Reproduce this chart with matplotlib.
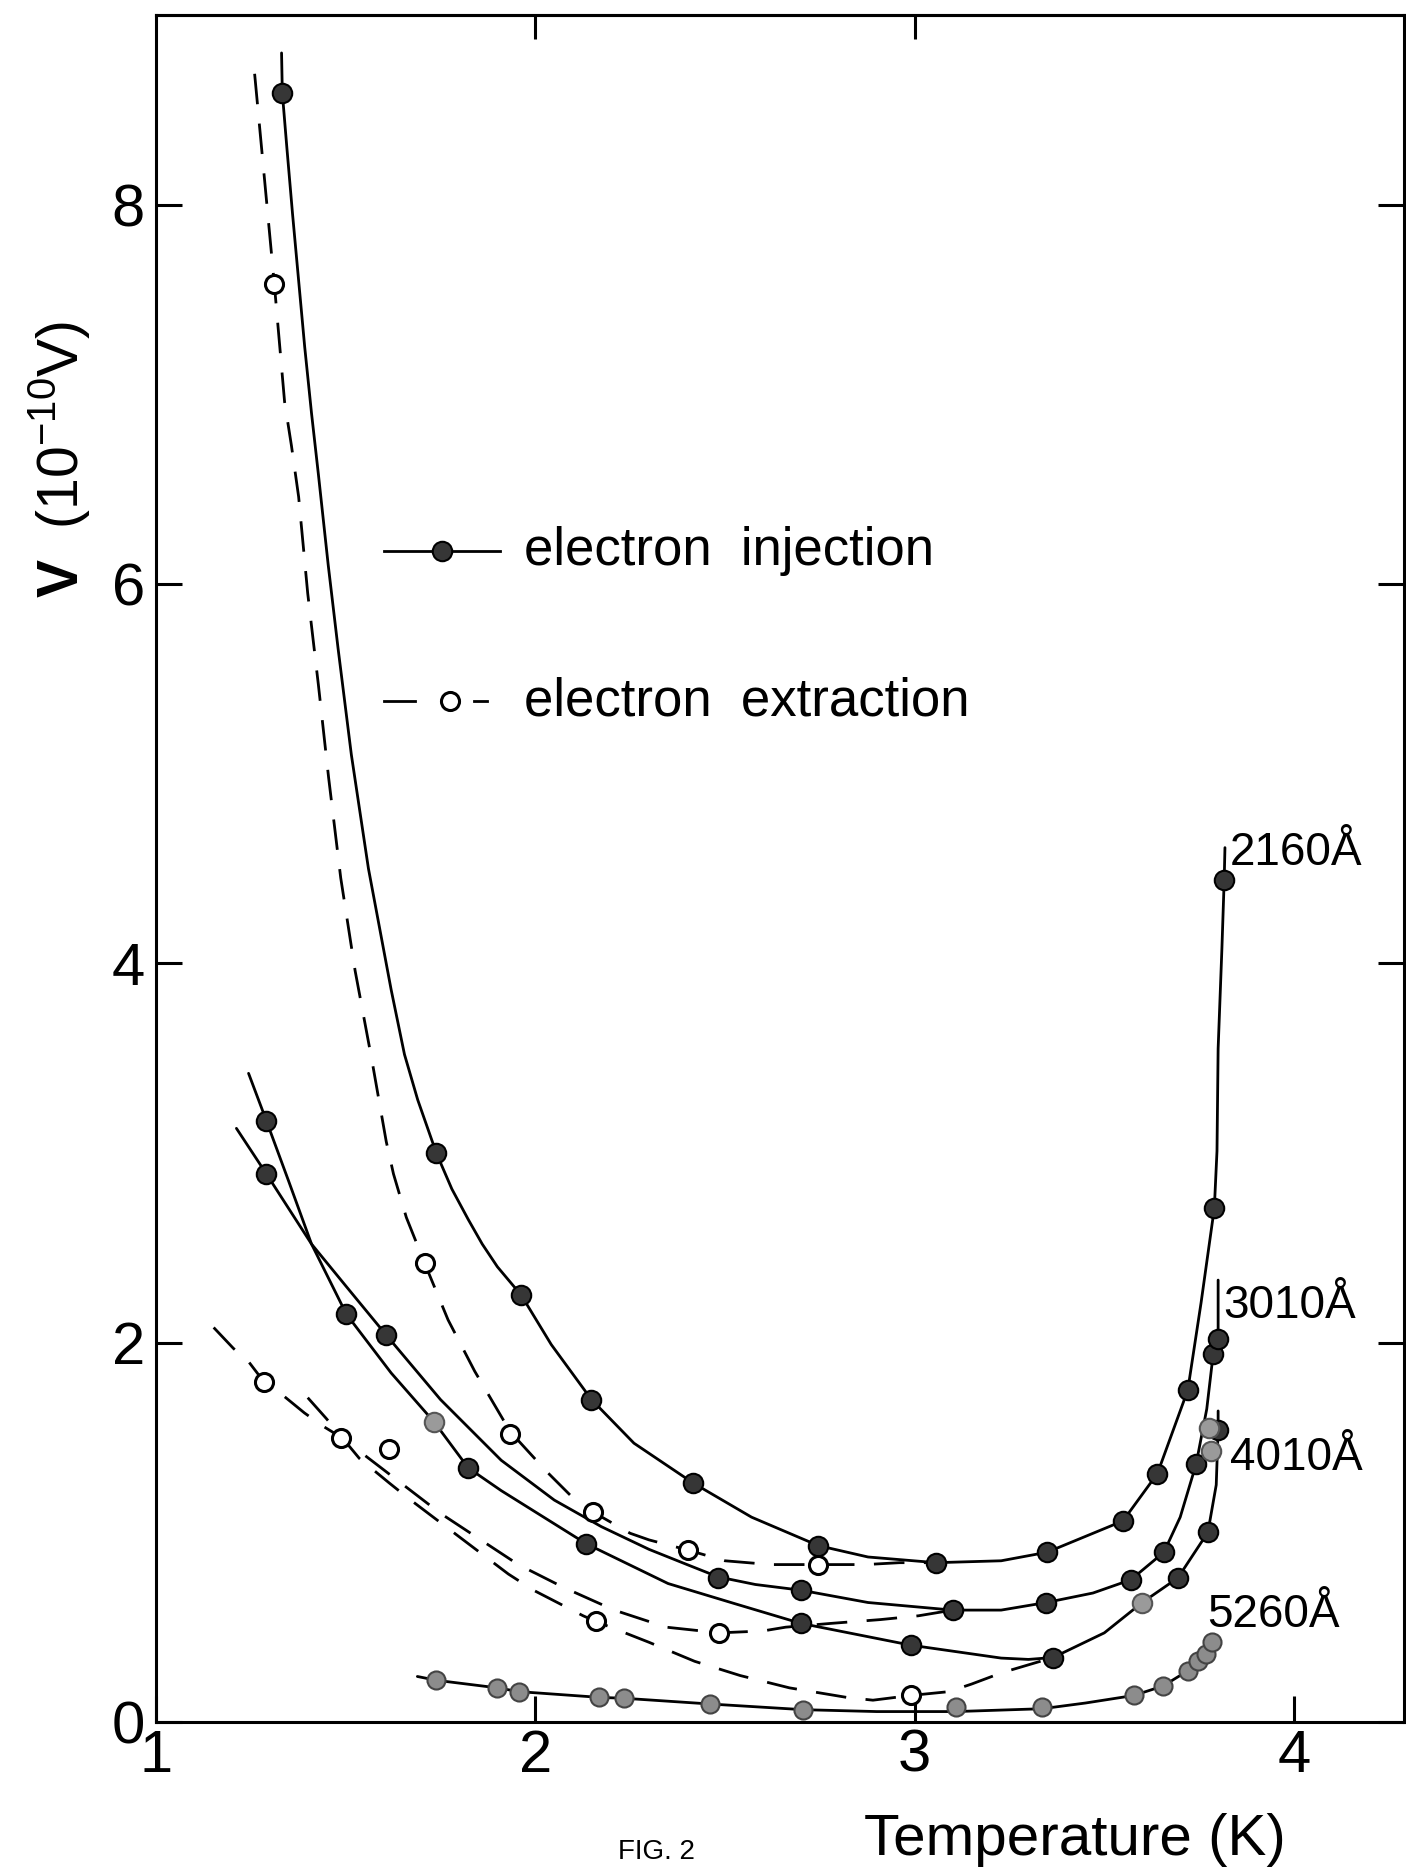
import matplotlib
matplotlib.use("Agg")
import matplotlib.pyplot as plt

plt.rcParams['font.family'] = ['Liberation Sans', 'DejaVu Sans']
plt.rcParams['mathtext.fontset'] = 'custom'
plt.rcParams['mathtext.rm'] = 'Liberation Sans'
plt.rcParams['mathtext.bf'] = 'Liberation Sans:bold'

# ---- data (T in K, V in 1e-10 V) ----
# 2160 A, electron injection: measured points and drawn curve
t2160 = [1.333, 1.739, 1.963, 2.148, 2.416, 2.746, 3.057, 3.349, 3.549, 3.64, 3.72, 3.79, 3.816]
v2160 = [8.59, 3.00, 2.25, 1.70, 1.26, 0.93, 0.84, 0.895, 1.06, 1.31, 1.75, 2.71, 4.44]
t2160_line = [1.331, 1.333, 1.345, 1.36, 1.376, 1.392, 1.41, 1.428, 1.454, 1.48, 1.515, 1.56,
              1.62, 1.655, 1.69, 1.739, 1.78, 1.823, 1.86, 1.90, 1.963, 2.042, 2.148, 2.26,
              2.416, 2.57, 2.746, 2.877, 3.057, 3.228, 3.349, 3.549, 3.64, 3.72, 3.755, 3.79,
              3.797, 3.80, 3.81, 3.816, 3.818]
v2160_line = [8.80, 8.59, 8.30, 7.95, 7.60, 7.25, 6.90, 6.58, 6.10, 5.66, 5.10, 4.50,
              3.86, 3.52, 3.28, 3.00, 2.81, 2.65, 2.52, 2.40, 2.25, 1.99, 1.70, 1.47,
              1.26, 1.08, 0.93, 0.87, 0.84, 0.85, 0.895, 1.06, 1.31, 1.75, 2.21, 2.71,
              3.01, 3.55, 4.08, 4.44, 4.61]

# 2160 A, electron extraction
t2160x = [1.312, 1.708, 1.934, 2.153, 2.403, 2.746]
v2160x = [7.58, 2.42, 1.52, 1.106, 0.906, 0.83]
t2160x_line = [1.26, 1.312, 1.339, 1.357, 1.376, 1.40, 1.428, 1.455, 1.487, 1.525, 1.57, 1.607,
               1.626, 1.66, 1.708, 1.77, 1.84, 1.934, 2.03, 2.10, 2.153, 2.25, 2.30, 2.403,
               2.50, 2.62, 2.746, 2.87, 2.96, 3.057]
v2160x_line = [8.69, 7.58, 6.96, 6.73, 6.46, 5.95, 5.47, 4.98, 4.45, 3.96, 3.48, 3.06,
               2.89, 2.66, 2.42, 2.12, 1.85, 1.53, 1.32, 1.18, 1.106, 0.995, 0.96, 0.906,
               0.85, 0.83, 0.83, 0.83, 0.84, 0.84]

# 3010 A, injection
t3010 = [1.291, 1.607, 2.482, 2.70, 3.10, 3.347, 3.57, 3.657, 3.742, 3.787, 3.80]
v3010 = [2.89, 2.04, 0.76, 0.695, 0.59, 0.63, 0.75, 0.895, 1.36, 1.94, 2.02]
t3010_line = [1.212, 1.291, 1.41, 1.50, 1.607, 1.75, 1.91, 2.05, 2.174, 2.30, 2.40, 2.482,
              2.58, 2.70, 2.877, 3.10, 3.228, 3.347, 3.47, 3.57, 3.657, 3.70, 3.742, 3.77,
              3.787, 3.80, 3.80]
v3010_line = [3.13, 2.89, 2.52, 2.30, 2.04, 1.70, 1.38, 1.17, 1.03, 0.91, 0.83, 0.765,
              0.725, 0.695, 0.63, 0.59, 0.59, 0.63, 0.68, 0.75, 0.895, 1.08, 1.36, 1.65,
              1.94, 2.02, 2.33]

# 3010 A, extraction
t3010x = [1.286, 1.489, 2.485]
v3010x = [1.79, 1.50, 0.47]
t3010x_line = [1.152, 1.204, 1.244, 1.286, 1.336, 1.391, 1.44, 1.489, 1.60, 1.75, 1.955, 2.074,
               2.208, 2.345, 2.485, 2.60, 2.66, 2.78, 2.91, 3.01, 3.10]
v3010x_line = [2.08, 1.97, 1.90, 1.79, 1.72, 1.63, 1.56, 1.50, 1.33, 1.10, 0.83, 0.71,
               0.59, 0.50, 0.47, 0.48, 0.50, 0.52, 0.54, 0.56, 0.59]

# 4010 A, injection
t4010 = [1.291, 1.502, 1.823, 2.134, 2.70, 2.99, 3.365, 3.694, 3.773, 3.80]
v4010 = [3.17, 2.15, 1.34, 0.94, 0.52, 0.405, 0.34, 0.76, 1.00, 1.54]
t4010_line = [1.244, 1.291, 1.35, 1.41, 1.502, 1.62, 1.734, 1.823, 1.91, 2.134, 2.35, 2.524,
              2.70, 2.99, 3.228, 3.30, 3.365, 3.50, 3.60, 3.694, 3.773, 3.795, 3.80, 3.80]
v4010_line = [3.42, 3.17, 2.85, 2.52, 2.15, 1.84, 1.58, 1.34, 1.22, 0.94, 0.73, 0.625,
              0.52, 0.405, 0.337, 0.33, 0.34, 0.47, 0.63, 0.76, 1.00, 1.25, 1.54, 1.64]

# 4010 A, extraction
t4010x = [2.16, 2.99]
v4010x = [0.53, 0.14]
t4010x_line = [1.40, 1.449, 1.536, 1.615, 1.665, 1.929, 1.995, 2.126, 2.16, 2.30, 2.42, 2.54,
               2.67, 2.82, 2.89, 2.99, 3.09, 3.15, 3.23, 3.365]
v4010x_line = [1.71, 1.60, 1.39, 1.26, 1.18, 0.78, 0.695, 0.56, 0.53, 0.42, 0.32, 0.245,
               0.18, 0.13, 0.115, 0.14, 0.16, 0.20, 0.26, 0.34]

# 5260 A, injection
t5260 = [1.739, 1.90, 1.958, 2.168, 2.235, 2.46, 2.706, 3.109, 3.336, 3.578, 3.655, 3.72,
         3.747, 3.768, 3.784]
v5260 = [0.22, 0.18, 0.16, 0.13, 0.126, 0.095, 0.063, 0.08, 0.08, 0.14, 0.19, 0.27,
         0.32, 0.36, 0.42]
t5260_line = [1.689, 1.739, 1.90, 1.958, 2.168, 2.235, 2.46, 2.706, 2.9, 3.109, 3.336, 3.45,
              3.578, 3.655, 3.72, 3.747, 3.768, 3.784]
v5260_line = [0.24, 0.22, 0.18, 0.16, 0.13, 0.125, 0.095, 0.065, 0.055, 0.055, 0.07, 0.10,
              0.14, 0.19, 0.27, 0.32, 0.36, 0.42]

# faint (grey) points and a stray open point
t_faint = [1.734, 3.60, 3.775, 3.78]
v_faint = [1.58, 0.63, 1.55, 1.43]
t_open_single = [1.615]
v_open_single = [1.44]

labels = ['2160Å', '3010Å', '4010Å', '5260Å']
label_t = [3.83, 3.813, 3.83, 3.77]
label_v = [4.52, 2.13, 1.33, 0.50]

# ---- figure ----
fig = plt.figure(figsize=(14.06, 18.69), dpi=100)
ax = fig.add_axes([156 / 1406, 1 - 1722 / 1869, 1248 / 1406, 1707 / 1869])

lw = 2.0
dash = (0, (11, 7))
fill_dark = '#363636'

solid = [(t2160_line, v2160_line), (t3010_line, v3010_line),
         (t4010_line, v4010_line), (t5260_line, v5260_line)]
for tl, vl in solid:
    ax.plot(tl, vl, color='black', lw=lw, solid_capstyle='round', solid_joinstyle='round')

dashed = [(t2160x_line, v2160x_line), (t3010x_line, v3010x_line), (t4010x_line, v4010x_line)]
for tl, vl in dashed:
    ax.plot(tl, vl, color='black', lw=lw, linestyle=dash, dash_joinstyle='round')

for tp, vp in [(t2160, v2160), (t3010, v3010), (t4010, v4010)]:
    ax.plot(tp, vp, 'o', ms=14, mfc=fill_dark, mec='black', mew=1.5, ls='none')
ax.plot(t5260, v5260, 'o', ms=13, mfc='#8c8c8c', mec='#444444', mew=1.5, ls='none')
ax.plot(t_faint, v_faint, 'o', ms=14, mfc='#9a9a9a', mec='#555555', mew=1.5, ls='none')

for tp, vp in [(t2160x, v2160x), (t3010x, v3010x), (t4010x, v4010x), (t_open_single, v_open_single)]:
    ax.plot(tp, vp, 'o', ms=13, mfc='white', mec='black', mew=2.2, ls='none')

for s, tx, vy in zip(labels, label_t, label_v):
    ax.text(tx, vy, s, fontsize=33, ha='left', va='baseline')

# legend drawn by hand
ax.plot([0.1827, 0.2756], [0.686, 0.686], transform=ax.transAxes, color='black', lw=lw)
ax.plot([0.229], [0.686], 'o', transform=ax.transAxes, ms=14, mfc=fill_dark, mec='black', mew=1.5)
ax.text(0.295, 0.686, 'electron  injection', transform=ax.transAxes, fontsize=38, va='center')
ax.plot([0.1827, 0.2075], [0.598, 0.598], transform=ax.transAxes, color='black', lw=lw)
ax.plot([0.2548, 0.2652], [0.598, 0.598], transform=ax.transAxes, color='black', lw=lw)
ax.plot([0.2356], [0.598], 'o', transform=ax.transAxes, ms=13, mfc='white', mec='black', mew=2.2)
ax.text(0.295, 0.598, 'electron  extraction', transform=ax.transAxes, fontsize=38, va='center')

ax.set_xlim(1.0, 4.29)
ax.set_ylim(0, 9.0)
ax.set_xticks([1, 2, 3, 4])
ax.set_yticks([0, 2, 4, 6, 8])
ax.tick_params(direction='in', length=19, width=2.2, labelsize=43, right=True)
ax.tick_params(axis='x', pad=5)
ax.tick_params(axis='y', pad=8)
top = ax.secondary_xaxis('top')
top.set_xticks([2, 3])
top.tick_params(direction='in', length=17, width=2.2, labeltop=False)
top.spines['top'].set_linewidth(2.2)
for sp in ax.spines.values():
    sp.set_linewidth(2.2)

fig.text(0.0427, 0.754, r'$\mathbf{V}$  (10$^{-10}$V)', rotation=90, fontsize=41,
         ha='center', va='center')
fig.text(0.6145, 0.0075, 'Temperature (K)', fontsize=42, ha='left', va='baseline')
fig.text(0.467, 0.002, 'FIG. 2', fontsize=20, ha='center', va='bottom')

fig.savefig('out.png', dpi=100)
